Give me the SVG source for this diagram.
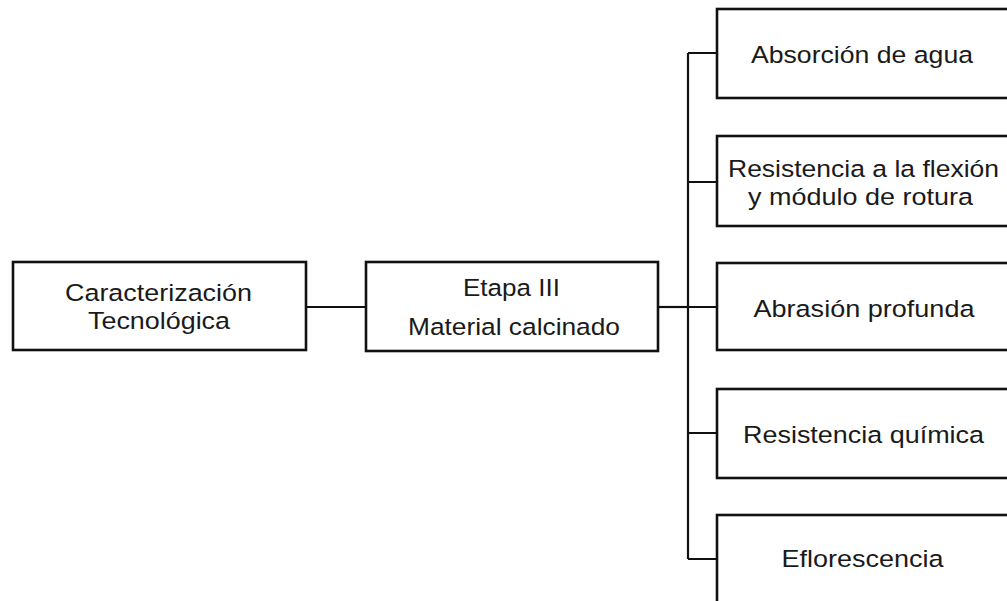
<svg xmlns="http://www.w3.org/2000/svg" width="1007" height="601" viewBox="0 0 1007 601">
<style>
.box{fill:#fff;stroke:#111;stroke-width:2.6}
.ln{fill:none;stroke:#111;stroke-width:2.2}
.t{font-family:"Liberation Sans",Arial,sans-serif;font-size:24.5px;fill:#1a1a1a;text-anchor:middle}
</style>
<rect width="1007" height="601" fill="#fff"/>
<g id="connectors">
<path class="ln" d="M306 307H366"/>
<path class="ln" d="M658 307H688"/>
<path class="ln" d="M688 53V559"/>
<path class="ln" d="M688 53H717M688 182H717M688 307H717M688 433H717M688 559H717"/>
</g>
<g id="n-caracterizacion">
<rect class="box" x="13" y="262" width="293" height="88"/>
<text class="t" x="158.5" y="301" textLength="187" lengthAdjust="spacingAndGlyphs">Caracterización</text>
<text class="t" x="159" y="329" textLength="142" lengthAdjust="spacingAndGlyphs">Tecnológica</text>
</g>
<g id="n-etapa">
<rect class="box" x="366" y="262" width="292" height="89"/>
<text class="t" x="511.5" y="296" textLength="97" lengthAdjust="spacingAndGlyphs">Etapa III</text>
<text class="t" x="514" y="334.5" textLength="212" lengthAdjust="spacingAndGlyphs">Material calcinado</text>
</g>
<g id="n-absorcion">
<rect class="box" x="717" y="9" width="293" height="89"/>
<text class="t" x="862" y="63" textLength="222" lengthAdjust="spacingAndGlyphs">Absorción de agua</text>
</g>
<g id="n-flexion">
<rect class="box" x="717" y="136" width="293" height="90"/>
<text class="t" x="863.5" y="176.5" textLength="271" lengthAdjust="spacingAndGlyphs">Resistencia a la flexión</text>
<text class="t" x="860.5" y="205" textLength="225" lengthAdjust="spacingAndGlyphs">y módulo de rotura</text>
</g>
<g id="n-abrasion">
<rect class="box" x="717" y="263" width="293" height="87"/>
<text class="t" x="864" y="316.5" textLength="221" lengthAdjust="spacingAndGlyphs">Abrasión profunda</text>
</g>
<g id="n-quimica">
<rect class="box" x="717" y="389" width="293" height="89"/>
<text class="t" x="863.5" y="443" textLength="241" lengthAdjust="spacingAndGlyphs">Resistencia química</text>
</g>
<g id="n-eflorescencia">
<rect class="box" x="717" y="515" width="293" height="90"/>
<text class="t" x="862.5" y="566.5" textLength="162" lengthAdjust="spacingAndGlyphs">Eflorescencia</text>
</g>
</svg>
